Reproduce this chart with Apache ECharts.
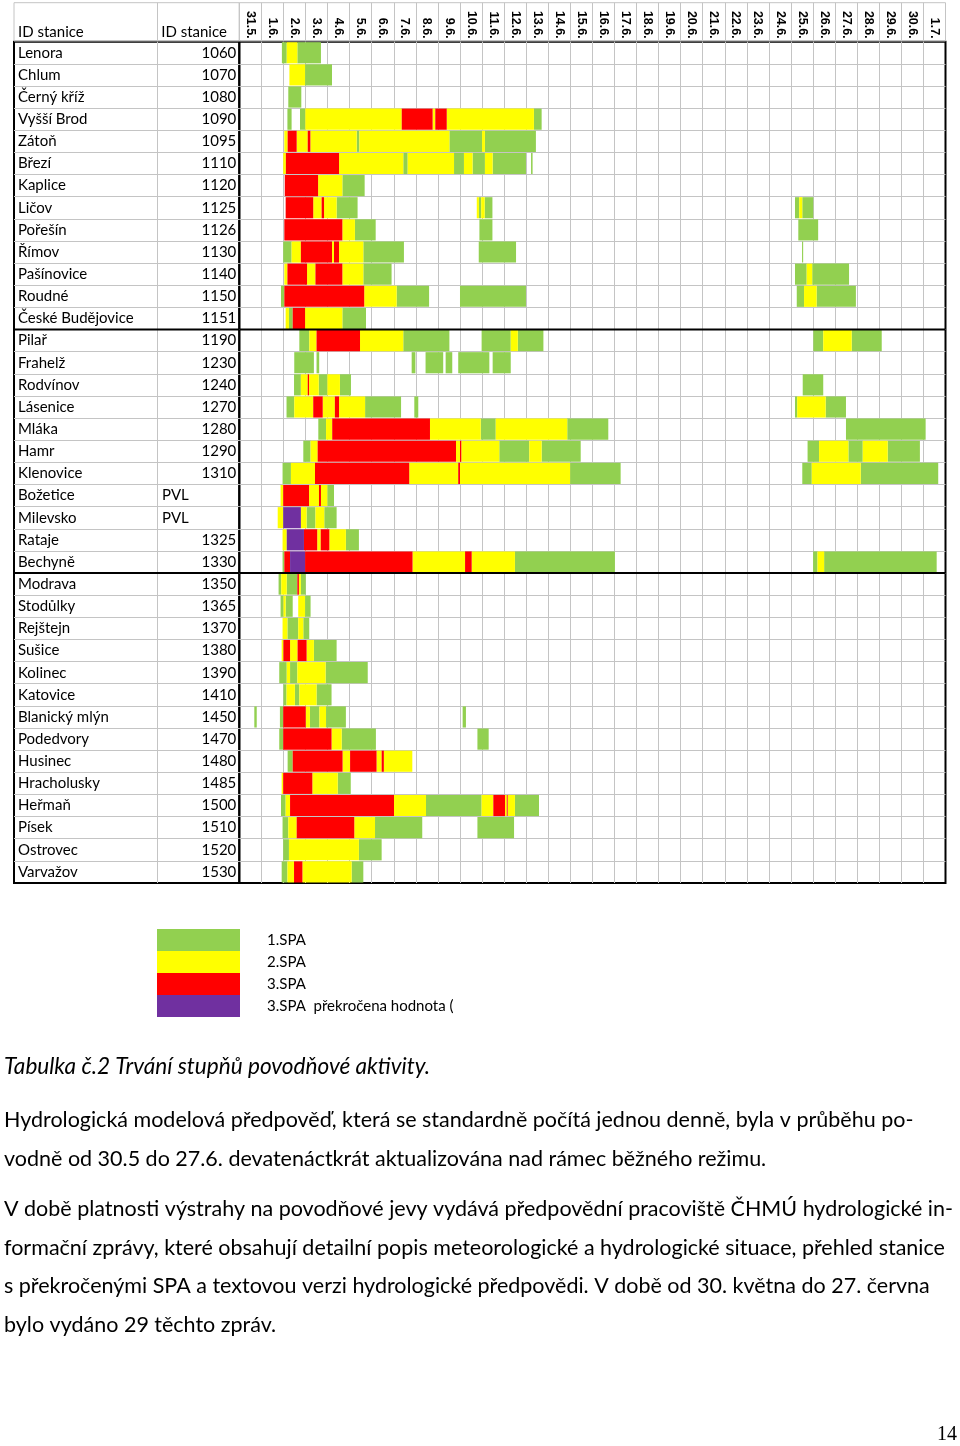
<!DOCTYPE html>
<html><head><meta charset="utf-8">
<script src="https://cdn.jsdelivr.net/npm/echarts@6/dist/echarts.min.js"></script>
<style>html,body{margin:0;padding:0;background:#fff}#chart{width:960px;height:1446px}</style>
</head><body><div id="chart"></div>
<script>
// ---------------- DATA ----------------
const stations = ['Lenora','Chlum','Černý kříž','Vyšší Brod','Zátoň','Březí','Kaplice','Ličov','Pořešín','Římov','Pašínovice','Roudné','České Budějovice',
  'Pilař','Frahelž','Rodvínov','Lásenice','Mláka','Hamr','Klenovice','Božetice','Milevsko','Rataje','Bechyně',
  'Modrava','Stodůlky','Rejštejn','Sušice','Kolinec','Katovice','Blanický mlýn','Podedvory','Husinec','Hracholusky','Heřmaň','Písek','Ostrovec','Varvažov'];
const stationIds = ['1060','1070','1080','1090','1095','1110','1120','1125','1126','1130','1140','1150','1151',
  '1190','1230','1240','1270','1280','1290','1310','PVL','PVL','1325','1330',
  '1350','1365','1370','1380','1390','1410','1450','1470','1480','1485','1500','1510','1520','1530'];
const dates = ['31.5.','1.6.','2.6.','3.6.','4.6.','5.6.','6.6.','7.6.','8.6.','9.6.','10.6.','11.6.','12.6.','13.6.','14.6.','15.6.',
  '16.6.','17.6.','18.6.','19.6.','20.6.','21.6.','22.6.','23.6.','24.6.','25.6.','26.6.','27.6.','28.6.','29.6.','30.6.','1.7.'];
const groupBounds = [13, 24];
const headerLabels = ['ID stanice', 'ID stanice'];
const legendNames = ['1.SPA', '2.SPA', '3.SPA', '3.SPA  překročena hodnota ('];

// [row index, start day, end day]  (day 0 = 31.5.)
const spa1 = [
 [0,1.93,2.15],[0,2.63,3.70],[1,2.98,4.20],[2,2.22,2.81],
 [3,2.18,2.37],[3,2.75,2.99],[3,13.35,13.70],
 [4,5.32,5.44],[4,9.52,11.0],[4,11.13,13.44],
 [5,7.43,7.63],[5,9.73,10.18],[5,10.57,11.13],[5,11.48,12.99],[5,13.22,13.29],
 [6,4.67,5.68],
 [7,4.41,5.36],[7,10.86,10.96],[7,11.12,11.47],[7,25.18,25.37],[7,25.51,26.01],
 [8,5.24,6.18],[8,10.88,11.47],[8,25.33,26.23],
 [9,1.99,2.37],[9,5.62,7.46],[9,10.85,12.54],[9,25.5,25.55],
 [10,5.62,6.9],[10,25.18,25.71],[10,25.96,27.63],
 [11,1.89,2.04],[11,7.13,8.6],[11,10.0,12.99],[11,25.26,25.59],[11,26.16,27.94],
 [12,2.25,2.42],[12,4.67,5.74],
 [13,2.72,3.17],[13,7.43,9.52],[13,10.98,12.3],[13,12.62,13.78],[13,26.01,26.46],[13,27.75,29.11],
 [14,2.49,3.38],[14,3.5,3.62],[14,7.81,7.98],[14,8.44,9.24],[14,9.35,9.65],[14,9.92,11.33],[14,11.48,12.3],
 [15,2.48,2.79],[15,3.6,3.99],[15,4.56,5.06],[15,25.53,26.46],
 [16,2.14,2.49],[16,5.7,7.33],[16,7.93,8.11],[16,25.18,25.28],[16,26.57,27.49],
 [17,3.58,3.93],[17,10.94,11.62],[17,14.86,16.72],[17,27.49,31.1],
 [18,2.9,3.23],[18,11.78,13.14],[18,13.7,15.47],[18,25.75,26.27],[18,27.6,28.25],[18,29.38,30.84],
 [19,1.96,2.34],[19,14.99,17.28],[19,25.51,25.94],[19,28.16,31.67],
 [20,3.99,4.29],
 [21,3.05,3.45],[21,3.85,4.41],
 [22,4.83,5.42],
 [23,1.96,2.04],[23,12.49,17.02],[23,26.0,26.2],[23,26.5,31.6],
 [24,1.78,1.9],[24,2.15,2.63],[24,2.79,3.01],
 [25,1.87,2.0],[25,2.1,2.42],[25,2.98,3.23],
 [26,2.18,2.67],[26,2.9,3.17],
 [27,3.38,4.41],
 [28,1.81,2.15],[28,2.3,2.63],[28,3.91,5.82],
 [29,2.0,2.14],[29,2.52,2.72],[29,3.5,4.18],
 [30,0.68,0.79],[30,1.84,1.99],[30,3.2,3.63],[30,3.93,4.83],[30,10.12,10.27],
 [31,1.81,1.99],[31,4.64,6.19],[31,10.79,11.3],
 [32,2.19,2.42],
 [33,4.46,5.05],
 [34,1.89,2.1],[34,8.46,10.98],[34,12.49,13.58],
 [35,1.96,2.22],[35,6.15,8.29],[35,10.79,12.45],
 [36,1.99,2.25],[36,5.42,6.45],
 [37,1.92,2.18],[37,5.09,5.62]
];
const spa2 = [
 [0,2.15,2.63],[1,2.27,2.98],
 [3,2.99,7.36],[3,8.76,8.88],[3,9.40,13.35],
 [4,2.04,2.19],[4,2.60,3.10],[4,3.22,5.32],[4,5.44,9.52],[4,11.0,11.13],
 [5,1.99,2.11],[5,4.52,7.43],[5,7.63,9.73],[5,10.18,10.57],[5,11.13,11.48],
 [6,3.57,4.67],
 [7,3.35,3.73],[7,3.84,4.41],[7,10.76,10.86],[7,10.96,11.12],[7,25.37,25.51],
 [8,4.67,5.24],
 [9,2.37,2.79],[9,4.2,4.29],[9,4.52,5.62],
 [10,2.04,2.18],[10,3.07,3.45],[10,4.67,5.62],[10,25.71,25.96],
 [11,5.66,7.13],[11,25.59,26.16],
 [12,2.1,2.25],[12,2.98,4.67],
 [13,3.17,3.5],[13,5.47,7.43],[13,12.3,12.62],[13,26.46,27.75],
 [15,2.79,3.1],[15,3.16,3.6],[15,3.99,4.56],
 [16,2.49,3.35],[16,3.78,4.33],[16,4.52,5.7],[16,25.28,26.57],
 [17,3.93,4.21],[17,8.64,10.94],[17,11.62,14.86],
 [18,3.23,3.55],[18,9.82,10.0],[18,10.06,11.78],[18,13.14,13.7],[18,26.27,27.6],[18,28.25,29.38],
 [19,2.34,3.43],[19,7.7,9.92],[19,10.0,14.99],[19,25.94,28.16],
 [20,1.87,1.99],[20,3.16,3.61],[20,3.7,3.99],
 [21,1.74,1.99],[21,2.79,3.05],[21,3.45,3.85],
 [22,1.96,2.15],[22,3.53,3.69],[22,4.08,4.83],
 [23,7.85,10.23],[23,10.53,12.49],[23,26.2,26.5],
 [24,1.9,2.15],[24,2.7,2.79],
 [25,2.0,2.1],[25,2.67,2.98],
 [26,1.96,2.18],[26,2.67,2.9],
 [27,1.92,2.0],[27,2.3,2.64],[27,3.05,3.38],
 [28,2.15,2.3],[28,2.63,3.91],
 [29,2.14,2.52],[29,2.72,3.5],
 [30,3.01,3.2],[30,3.63,3.93],
 [31,4.18,4.64],
 [32,4.68,5.02],[32,6.22,6.45],[32,6.55,7.84],
 [33,1.92,1.99],[33,3.31,4.46],
 [34,2.1,2.3],[34,7.01,8.46],[34,10.98,11.51],[34,12.04,12.12],[34,12.16,12.49],
 [35,2.22,2.6],[35,5.21,6.15],
 [36,2.25,5.42],
 [37,2.18,2.48],[37,2.86,5.09]
];
const spa3 = [
 [3,7.36,8.76],[3,8.88,9.40],
 [4,2.19,2.60],[4,3.10,3.22],
 [5,2.11,4.52],[6,2.06,3.57],
 [7,2.10,3.35],[7,3.73,3.84],
 [8,2.04,4.67],
 [9,2.79,4.2],[9,4.29,4.52],
 [10,2.18,3.07],[10,3.45,4.67],
 [11,2.04,5.66],[12,2.42,2.98],
 [13,3.5,5.47],[15,3.1,3.16],
 [16,3.35,3.78],[16,4.33,4.52],
 [17,4.21,8.64],
 [18,3.55,9.82],[18,10.0,10.06],
 [19,3.43,7.7],[19,9.92,10.0],
 [20,1.99,3.16],[20,3.61,3.7],
 [22,2.93,3.53],[22,3.69,4.08],
 [23,2.04,2.3],[23,2.98,7.85],[23,10.23,10.53],
 [24,2.63,2.7],
 [27,2.0,2.3],[27,2.64,3.05],
 [30,1.99,3.01],
 [31,1.99,4.18],
 [32,2.42,4.68],[32,5.02,6.22],[32,6.45,6.55],
 [33,1.99,3.31],
 [34,2.3,7.01],[34,11.51,12.04],[34,12.12,12.16],
 [35,2.6,5.21],
 [37,2.48,2.86]
];
const spa3plus = [ [21,1.99,2.79],[22,2.15,2.93],[23,2.3,2.98] ];

const caption = 'Tabulka č.2 Trvání stupňů povodňové aktivity.';
const paragraph1 = ['Hydrologická modelová předpověď, která se standardně počítá jednou denně, byla v průběhu po-',
  'vodně od 30.5 do 27.6. devatenáctkrát aktualizována nad rámec běžného režimu.'];
const paragraph2 = ['V době platnosti výstrahy na povodňové jevy vydává předpovědní pracoviště ČHMÚ hydrologické in-',
  'formační zprávy, které obsahují detailní popis meteorologické a hydrologické situace, přehled stanice',
  's překročenými SPA a textovou verzi hydrologické předpovědi. V době od 30. května do 27. června',
  'bylo vydáno 29 těchto zpráv.'];
const pageNumber = '14';

// ---------------- STYLE / LAYOUT ----------------
const FONT = 'Lato, "Liberation Sans", sans-serif';
const GRID = '#c4c4c4';
const levelColors = ['#92D050', '#FFFF00', '#FF0000', '#7030A0'];
const chartLeft = 239.3, chartW = 706.2, tableLeft = 14, tableW = 225.3, bodyTop = 41.7, bodyH = 841.3, headTop = 2.7, headH = 38.3;

function renderSeg(params, api) {
  const r = api.value(0), s = api.value(1), e = api.value(2);
  const a = api.coord([s, r]), b = api.coord([e, r + 1]);
  return { type: 'rect', shape: { x: a[0], y: a[1] + 0.5, width: b[0] - a[0], height: b[1] - a[1] - 1 },
    style: { fill: api.visual('color') } };
}
function renderSep(params, api) {
  const y = api.coord([0, api.value(1)])[1];
  const cs = params.coordSys;
  return { type: 'line', shape: { x1: cs.x, y1: y, x2: cs.x + cs.width, y2: y }, style: { stroke: '#000', lineWidth: 2 } };
}
const hidden = { axisLabel: { show: false }, axisLine: { show: false }, axisTick: { show: false } };
const gridSplit = { show: true, showMinLine: false, showMaxLine: false, lineStyle: { color: GRID, width: 1 } };

const chart = echarts.init(document.getElementById('chart'), null, { renderer: 'canvas' });
const sepData = groupBounds.map(b => [0, b]);

const option = {
  backgroundColor: '#fff',
  animation: false,
  grid: [
    { left: chartLeft, top: bodyTop, width: chartW, height: bodyH, show: true, borderColor: '#000', borderWidth: 2 },
    { left: tableLeft, top: bodyTop, width: tableW, height: bodyH, show: true, borderColor: '#000', borderWidth: 2 },
    { left: chartLeft, top: headTop, width: chartW, height: headH, show: true, borderColor: GRID, borderWidth: 1 },
    { left: tableLeft, top: headTop, width: tableW, height: headH, show: true, borderColor: GRID, borderWidth: 1 }
  ],
  xAxis: [
    Object.assign({ gridIndex: 0, type: 'value', min: 0, max: dates.length, interval: 1, splitLine: gridSplit }, hidden),
    { gridIndex: 0, type: 'category', position: 'top', data: dates, boundaryGap: true,
      axisLine: { show: false }, axisTick: { show: false }, splitLine: { show: false },
      axisLabel: { interval: 0, rotate: 90, margin: 3, fontSize: 12.5, fontWeight: 'bold', fontFamily: '"Liberation Sans", Arial, sans-serif', color: '#000' } },
    Object.assign({ gridIndex: 1, type: 'value', min: 0, max: 225, interval: 143, splitLine: gridSplit }, hidden),
    Object.assign({ gridIndex: 2, type: 'value', min: 0, max: dates.length, interval: 1, splitLine: gridSplit }, hidden),
    { gridIndex: 3, type: 'value', min: 0, max: 225, interval: 143, splitLine: gridSplit,
      axisLine: { show: false }, axisTick: { show: false },
      axisLabel: { show: true, inside: true, margin: 1, align: 'left', padding: [0, 0, 0, 4], fontSize: 15, fontFamily: FONT, color: '#000',
        formatter: (v, i) => headerLabels[i] || '' } }
  ],
  yAxis: [
    Object.assign({ gridIndex: 0, type: 'value', min: 0, max: stations.length, interval: 1, inverse: true, splitLine: gridSplit }, hidden),
    Object.assign({ gridIndex: 1, type: 'value', min: 0, max: stations.length, interval: 1, inverse: true, splitLine: gridSplit }, hidden),
    { gridIndex: 1, type: 'category', data: stations, inverse: true, position: 'left',
      axisLine: { show: false }, axisTick: { show: false }, splitLine: { show: false },
      axisLabel: { inside: true, margin: 4, interval: 0, fontSize: 15, fontFamily: FONT, color: '#000', padding: [2, 0, 0, 0] } },
    { gridIndex: 1, type: 'category', data: stationIds, inverse: true, position: 'right',
      axisLine: { show: false }, axisTick: { show: false }, splitLine: { show: false },
      axisLabel: { inside: true, margin: 3, interval: 0, fontSize: 15, fontFamily: FONT, color: '#000', padding: [2, 0, 0, 0],
        formatter: v => /^\d+$/.test(v) ? v : '' } },
    { gridIndex: 1, type: 'category', data: stationIds, inverse: true, position: 'left',
      axisLine: { show: false }, axisTick: { show: false }, splitLine: { show: false },
      axisLabel: { inside: true, margin: 148, interval: 0, fontSize: 15, fontFamily: FONT, color: '#000', padding: [2, 0, 0, 0],
        formatter: v => /^\d+$/.test(v) ? '' : v } },
    { gridIndex: 2, type: 'value', show: false },
    { gridIndex: 3, type: 'value', show: false }
  ],
  legend: {
    orient: 'vertical', left: 157, top: 929, itemWidth: 83, itemHeight: 22, itemGap: 0, padding: 0,
    icon: 'rect', selectedMode: false, data: legendNames,
    textStyle: { fontSize: 15, color: '#000', fontFamily: FONT, padding: [0, 0, 0, 22] }
  },
  series: [
    ...[spa1, spa2, spa3, spa3plus].map((d, i) => ({
      type: 'custom', name: legendNames[i], xAxisIndex: 0, yAxisIndex: 0, data: d,
      encode: { x: [1, 2], y: 0 }, renderItem: renderSeg, itemStyle: { color: levelColors[i] }, silent: true, z: 2
    })),
    { type: 'custom', xAxisIndex: 0, yAxisIndex: 0, data: sepData, encode: { x: 0, y: 1 }, renderItem: renderSep, silent: true, z: 5 },
    { type: 'custom', xAxisIndex: 2, yAxisIndex: 1, data: sepData, encode: { x: 0, y: 1 }, renderItem: renderSep, silent: true, z: 5 }
  ],
  graphic: [
    { type: 'text', left: 4, top: 1055, style: { text: caption, font: 'italic 22.6px ' + FONT, fill: '#000' } },
    ...paragraph1.map((t, i) => ({ type: 'text', left: 4, top: 1109 + i * 39, style: { text: t, font: '21.5px ' + FONT, fill: '#000' } })),
    ...paragraph2.map((t, i) => ({ type: 'text', left: 4, top: 1198 + i * 38.7, style: { text: t, font: '21.5px ' + FONT, fill: '#000' } })),
    { type: 'text', right: 3, top: 1425, style: { text: pageNumber, font: '20px "Liberation Serif", serif', fill: '#000' } }
  ]
};
chart.setOption(option);
</script></body></html>
